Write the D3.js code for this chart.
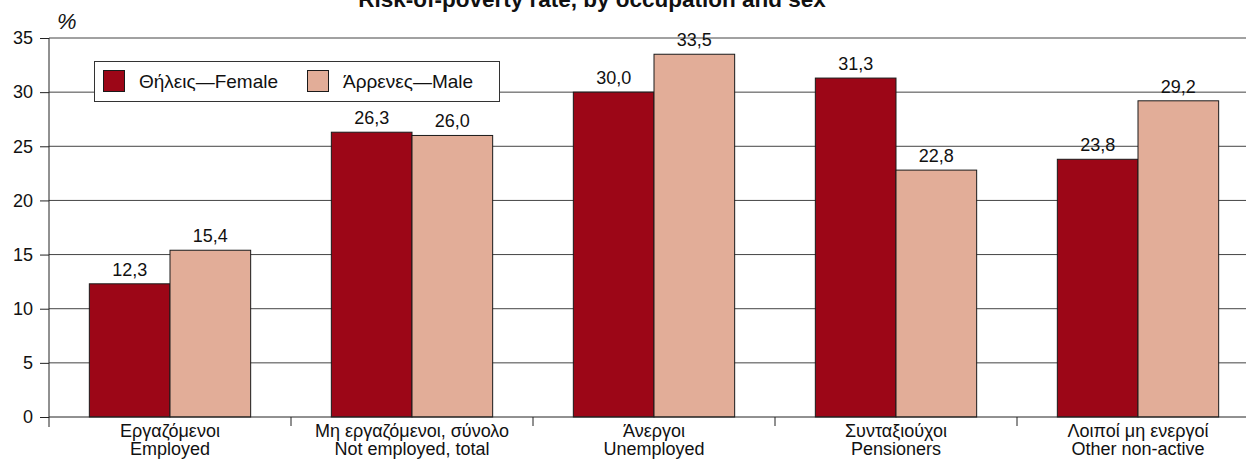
<!DOCTYPE html>
<html>
<head>
<meta charset="utf-8">
<script src="https://cdn.jsdelivr.net/npm/d3@7"></script>
<style>
  body { margin: 0; background: #fff; }
  svg { display: block; }
</style>
</head>
<body>
<div id="chart"></div>
<script>
// Chart data
const categories = [
  ["Εργαζόμενοι", "Employed"],
  ["Μη εργαζόμενοι, σύνολο", "Not employed, total"],
  ["Άνεργοι", "Unemployed"],
  ["Συνταξιούχοι", "Pensioners"],
  ["Λοιποί μη ενεργοί", "Other non-active"]
];
const seriesNames = ["Θήλεις—Female", "Άρρενες—Male"];
const female = [12.3, 26.3, 30.0, 31.3, 23.8];
const male = [15.4, 26.0, 33.5, 22.8, 29.2];
const yTicks = [0, 5, 10, 15, 20, 25, 30, 35];

const width = 1246;
const height = 460;
const fontFamily = "Arial, 'Liberation Sans', Helvetica, sans-serif";
const colors = ["#9c0617", "#e2ad98"];

const svg = d3.select("#chart").append("svg")
  .attr("width", width)
  .attr("height", height)
  .style("font-family", fontFamily);

// Scales
const x0 = d3.scaleBand()
  .domain(d3.range(categories.length))
  .range([49, 1259])
  .padding(0);

const x1 = d3.scaleBand()
  .domain([0, 1])
  .range([0, x0.bandwidth()])
  .paddingInner(0)
  .paddingOuter(0.5);

const y = d3.scaleLinear()
  .domain([0, 35])
  .range([417, 38]);

// Gridlines
svg.append("g")
  .selectAll("line")
  .data(yTicks.filter(d => d > 0))
  .enter()
  .append("line")
  .attr("x1", 49)
  .attr("x2", width)
  .attr("y1", d => y(d))
  .attr("y2", d => y(d))
  .attr("stroke", "#444")
  .attr("stroke-width", 1);

// Y axis
const yAxis = svg.append("g")
  .attr("transform", "translate(49,0)")
  .call(d3.axisLeft(y).tickValues(yTicks).tickSize(9).tickPadding(7));
yAxis.select(".domain").remove();
yAxis.selectAll(".tick line").attr("stroke", "#222");
yAxis.selectAll("text")
  .attr("font-size", "18px")
  .attr("font-family", fontFamily)
  .attr("fill", "#111");

svg.append("line")
  .attr("x1", 49).attr("x2", 49)
  .attr("y1", y(35)).attr("y2", 427)
  .attr("stroke", "#222");

svg.append("text")
  .attr("x", 57)
  .attr("y", 29)
  .attr("font-size", "22px")
  .attr("font-style", "italic")
  .attr("fill", "#111")
  .text("%");

// Bars
const groups = svg.append("g")
  .selectAll("g")
  .data(categories.map((c, i) => [female[i], male[i]]))
  .enter()
  .append("g")
  .attr("transform", (d, i) => `translate(${x0(i)},0)`);

groups.selectAll("rect")
  .data(d => d)
  .enter()
  .append("rect")
  .attr("x", (d, j) => x1(j))
  .attr("y", d => y(d))
  .attr("width", x1.bandwidth())
  .attr("height", d => y(0) - y(d))
  .attr("fill", (d, j) => colors[j])
  .attr("stroke", "#1a1a1a")
  .attr("stroke-width", 1);

groups.selectAll("text")
  .data(d => d)
  .enter()
  .append("text")
  .attr("x", (d, j) => x1(j) + x1.bandwidth() / 2)
  .attr("y", d => y(d) - 8)
  .attr("text-anchor", "middle")
  .attr("font-size", "18px")
  .attr("fill", "#111")
  .text(d => d3.format(".1f")(d).replace(".", ","));

// X axis
svg.append("line")
  .attr("x1", 49).attr("x2", width)
  .attr("y1", y(0)).attr("y2", y(0))
  .attr("stroke", "#222");

svg.append("g")
  .selectAll("line")
  .data(d3.range(1, categories.length))
  .enter()
  .append("line")
  .attr("x1", d => x0(d))
  .attr("x2", d => x0(d))
  .attr("y1", y(0))
  .attr("y2", 426)
  .attr("stroke", "#222");

const labels = svg.append("g")
  .selectAll("text")
  .data(categories)
  .enter()
  .append("text")
  .attr("text-anchor", "middle")
  .attr("font-size", "18px")
  .attr("fill", "#111")
  .attr("transform", (d, i) => `translate(${x0(i) + x0.bandwidth() / 2},0)`);

labels.append("tspan").attr("x", 0).attr("y", 437).text(d => d[0]);
labels.append("tspan").attr("x", 0).attr("y", 455).text(d => d[1]);

// Legend
const legend = svg.append("g");
legend.append("rect")
  .attr("x", 94.5).attr("y", 61.5)
  .attr("width", 405).attr("height", 40)
  .attr("fill", "#fff")
  .attr("stroke", "#333");

const legendX = [103, 307];
seriesNames.forEach((name, i) => {
  legend.append("rect")
    .attr("x", legendX[i] + 0.5).attr("y", 70.5)
    .attr("width", 21).attr("height", 21)
    .attr("fill", colors[i])
    .attr("stroke", "#1a1a1a");
  legend.append("text")
    .attr("x", legendX[i] + 36)
    .attr("y", 88)
    .attr("font-size", "19px")
    .attr("fill", "#111")
    .text(name);
});

// Title (partly cut off at the top, as in the source)
svg.append("text")
  .attr("x", 592)
  .attr("y", 7)
  .attr("text-anchor", "middle")
  .attr("font-size", "22.5px")
  .attr("font-weight", "bold")
  .attr("fill", "#111")
  .text("Risk-of-poverty rate, by occupation and sex");
</script>
</body>
</html>
